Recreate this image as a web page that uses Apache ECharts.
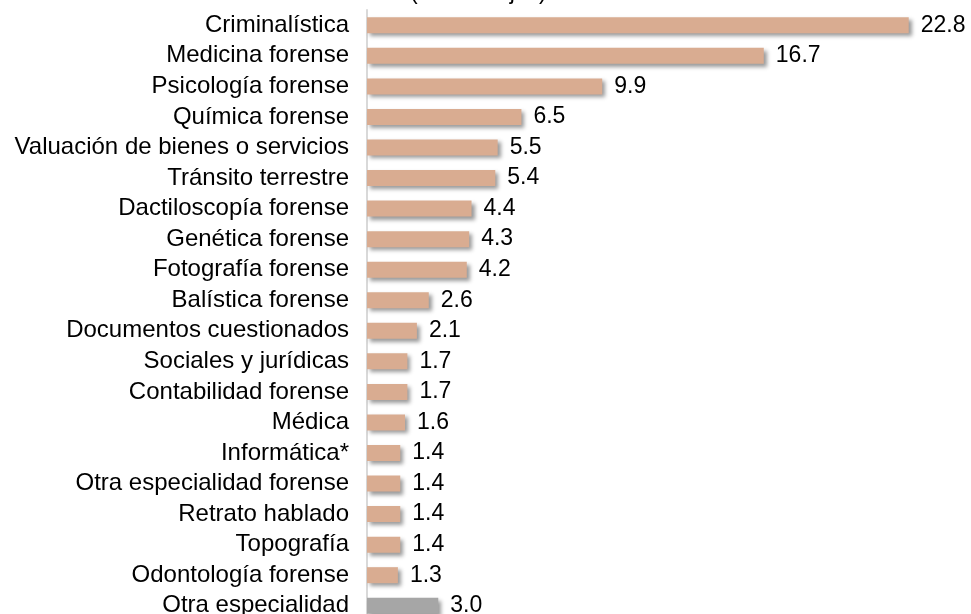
<!DOCTYPE html>
<html>
<head>
<meta charset="utf-8">
<script src="https://cdn.jsdelivr.net/npm/echarts@6/dist/echarts.min.js"></script>
<style>html,body{margin:0;padding:0;background:#fff;}#c{width:971px;height:614px;}</style>
</head>
<body>
<div id="c"></div>
<script>
var categories = ["Criminalística","Medicina forense","Psicología forense","Química forense","Valuación de bienes o servicios","Tránsito terrestre","Dactiloscopía forense","Genética forense","Fotografía forense","Balística forense","Documentos cuestionados","Sociales y jurídicas","Contabilidad forense","Médica","Informática*","Otra especialidad forense","Retrato hablado","Topografía","Odontología forense","Otra especialidad"];
var values = [22.8,16.7,9.9,6.5,5.5,5.4,4.4,4.3,4.2,2.6,2.1,1.7,1.7,1.6,1.4,1.4,1.4,1.4,1.3,3.0];
var barColor = "#D9AC91";
var otherColor = "#A6A6A6";

var chart = echarts.init(document.getElementById('c'));
chart.setOption({
  animation: false,
  textStyle: {fontFamily: 'Liberation Sans, Arial, sans-serif'},
  graphic: [{
    type: 'text', x: 410, y: 4,
    style: {text: '(Porcentajes)', font: '23px "Liberation Sans", Arial', fill: '#000', verticalAlign: 'bottom'}
  }],
  grid: {left: 367, top: 10, width: 594, height: 611, outerBoundsMode: 'none', containLabel: false},
  xAxis: {type: 'value', min: 0, max: 25, show: false},
  yAxis: {
    type: 'category', inverse: true, data: categories,
    axisLine: {show: true, lineStyle: {color: '#D9D9D9', width: 2}},
    axisTick: {show: false},
    axisLabel: {interval: 0, color: '#000', fontSize: 24, margin: 18, fontFamily: 'Liberation Sans, Arial, sans-serif'}
  },
  series: [{
    type: 'bar', barWidth: 16,
    data: values.map(function(v, i){
      return {value: v, itemStyle: {color: i === values.length - 1 ? otherColor : barColor}};
    }),
    itemStyle: {shadowColor: 'rgba(0,0,0,0.4)', shadowBlur: 4, shadowOffsetX: 3, shadowOffsetY: 3},
    label: {show: true, position: 'right', distance: 12, color: '#000', fontSize: 23,
      fontFamily: 'Liberation Sans, Arial, sans-serif',
      formatter: function(p){ return p.value.toFixed(1); }}
  }]
});
</script>
</body>
</html>
